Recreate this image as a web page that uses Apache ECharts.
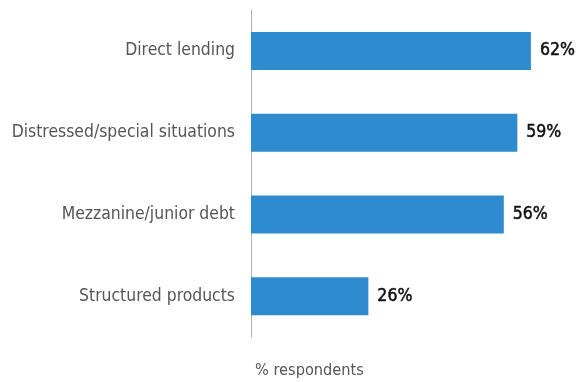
<!DOCTYPE html>
<html>
<head>
<meta charset="utf-8">
<script src="https://cdn.jsdelivr.net/npm/echarts@6/dist/echarts.min.js"></script>
<style>
  html, body { margin: 0; padding: 0; background: #ffffff; }
  #chart { width: 577px; height: 382px; }
</style>
</head>
<body>
<div id="chart"></div>
<script>
// Strategies and share of respondents (%)
const categories = ['Direct lending', 'Distressed/special situations', 'Mezzanine/junior debt', 'Structured products'];
const values = [62, 59, 56, 26];
const axisTitle = '% respondents';

const FONT = '"Liberation Sans Narrow", "DejaVu Sans Condensed", "Roboto", sans-serif';

const chart = echarts.init(document.getElementById('chart'), null, { renderer: 'canvas' });
chart.setOption({
  animation: false,
  backgroundColor: '#ffffff',
  title: {
    text: axisTitle,
    left: 250,
    top: 358,
    textStyle: { fontFamily: FONT, fontSize: 16.2, fontWeight: 'normal', color: '#555555' }
  },
  grid: { left: 251, right: 10, top: 10, bottom: 45, containLabel: false, outerBoundsMode: 'none' },
  xAxis: {
    type: 'value',
    min: 0,
    max: 70,
    show: false
  },
  yAxis: {
    type: 'category',
    data: categories,
    inverse: true,
    axisLine: { show: true, lineStyle: { color: '#b0b0b0', width: 1 } },
    axisTick: { show: false },
    axisLabel: {
      margin: 16,
      fontFamily: FONT,
      fontSize: 17.4,
      color: '#555555'
    }
  },
  series: [{
    type: 'bar',
    data: values,
    barWidth: 38,
    itemStyle: { color: '#2D8BCE' },
    label: {
      show: true,
      position: 'right',
      distance: 9,
      formatter: '{c}%',
      fontFamily: FONT,
      fontSize: 17.5,
      fontWeight: 'normal',
      color: '#111111',
      textBorderColor: '#111111',
      textBorderWidth: 0.5
    }
  }]
});
</script>
</body>
</html>
